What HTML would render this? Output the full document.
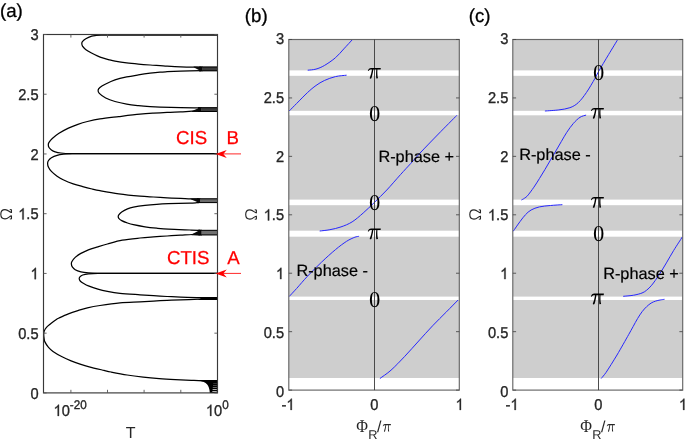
<!DOCTYPE html>
<html><head><meta charset="utf-8"><title>figure</title>
<style>html,body{margin:0;padding:0;background:#fff}body{width:685px;height:443px;overflow:hidden;font-family:"Liberation Sans",sans-serif}</style></head>
<body>
<svg width="685" height="443" viewBox="0 0 685 443" style="display:block;will-change:transform;text-rendering:geometricPrecision">
<rect width="685" height="443" fill="#fff"/>
<g fill="none" stroke="#000" stroke-width="1.25" stroke-linejoin="round">
<path d="M217.50 35.20 C199.92 35.20 131.42 35.20 112.00 35.20 C107.77 35.20 103.67 35.15 101.00 35.20 C99.07 35.24 97.55 35.33 96.00 35.50 C94.45 35.67 93.29 35.68 91.70 36.20 C90.00 36.75 87.35 37.88 85.80 38.80 C84.32 39.67 83.07 40.90 82.40 41.70 C81.91 42.29 81.78 42.85 81.80 43.60 C81.82 44.35 81.93 45.33 82.50 46.20 C83.13 47.17 84.23 48.37 85.60 49.40 C87.10 50.53 89.55 51.92 91.50 53.00 C93.45 54.08 95.32 55.03 97.30 55.90 C99.28 56.77 101.42 57.55 103.40 58.20 C105.38 58.85 107.27 59.32 109.20 59.80 C111.13 60.28 112.75 60.70 115.00 61.10 C117.92 61.62 122.80 62.40 126.70 62.90 C130.60 63.40 134.50 63.75 138.40 64.10 C142.30 64.45 146.50 64.75 150.10 65.00 C153.70 65.25 157.17 65.42 160.00 65.60 C162.73 65.78 164.37 65.94 167.10 66.10 C170.53 66.30 176.10 66.62 180.60 66.80 C185.10 66.98 190.70 67.12 194.10 67.20 C196.75 67.27 199.85 67.28 201.00 67.30"/>
<path d="M201.00 70.60 C197.60 70.70 186.25 71.02 180.60 71.20 C175.41 71.37 170.53 71.55 167.10 71.70 C164.37 71.82 162.72 71.86 160.00 72.10 C157.17 72.35 153.70 72.73 150.10 73.20 C146.50 73.67 142.30 74.28 138.40 74.90 C134.50 75.52 130.60 76.07 126.70 76.90 C122.80 77.73 118.50 78.72 115.00 79.90 C111.50 81.08 108.22 82.73 105.70 84.00 C103.37 85.17 101.17 86.48 99.90 87.50 C98.95 88.26 98.20 89.12 98.10 90.10 C98.00 91.08 98.36 92.43 99.30 93.40 C100.57 94.72 103.08 96.65 105.70 98.00 C108.32 99.35 111.50 100.48 115.00 101.50 C118.50 102.52 122.80 103.42 126.70 104.10 C130.60 104.78 134.50 105.18 138.40 105.60 C142.30 106.02 146.50 106.35 150.10 106.60 C153.70 106.85 156.19 106.98 160.00 107.10 C165.08 107.27 174.92 107.47 180.60 107.60 C185.79 107.72 190.87 107.85 194.10 107.90 C196.37 107.94 199.02 107.90 200.00 107.90"/>
<path d="M200.00 111.30 C198.68 111.28 195.14 111.12 192.10 111.20 C188.87 111.28 184.77 111.62 180.60 111.80 C176.43 111.98 171.62 112.08 167.10 112.30 C162.58 112.52 158.02 112.78 153.50 113.10 C148.98 113.42 145.18 113.68 140.00 114.20 C134.22 114.78 125.47 115.82 118.80 116.60 C112.13 117.38 105.23 118.08 100.00 118.90 C95.11 119.66 91.08 120.60 87.40 121.50 C83.72 122.40 81.07 123.20 77.90 124.30 C74.73 125.40 71.55 126.60 68.40 128.10 C65.25 129.60 61.68 131.57 59.00 133.30 C56.32 135.03 53.97 137.00 52.30 138.50 C50.86 139.79 49.67 141.27 49.00 142.30 C48.48 143.11 48.30 143.83 48.30 144.70 C48.30 145.57 48.48 146.63 49.00 147.50 C49.52 148.37 50.37 149.18 51.40 149.90 C52.43 150.62 53.65 151.29 55.20 151.80 C56.78 152.32 58.68 152.72 60.90 153.00 C63.37 153.31 66.49 153.64 70.00 153.65 C96.10 153.76 192.92 153.65 217.50 153.65"/>
<path d="M217.50 153.65 C193.25 153.66 97.63 153.61 72.00 153.70 C68.80 153.71 66.18 153.93 63.70 154.20 C61.22 154.47 59.15 154.72 57.10 155.30 C55.05 155.88 52.83 156.83 51.40 157.70 C50.07 158.50 49.13 159.55 48.50 160.50 C47.87 161.45 47.60 162.28 47.60 163.40 C47.60 164.52 47.87 165.87 48.50 167.20 C49.13 168.53 50.04 169.98 51.40 171.40 C52.83 172.90 55.05 174.77 57.10 176.20 C59.15 177.63 61.05 178.75 63.70 180.00 C66.38 181.27 70.03 182.70 73.20 183.80 C76.37 184.90 79.55 185.73 82.70 186.60 C85.85 187.47 89.22 188.32 92.10 189.00 C94.98 189.68 96.94 190.15 100.00 190.70 C104.45 191.50 112.13 192.90 118.80 193.80 C125.47 194.70 134.22 195.57 140.00 196.10 C145.18 196.58 148.98 196.72 153.50 197.00 C158.02 197.28 162.58 197.57 167.10 197.80 C171.62 198.03 176.67 198.22 180.60 198.40 C184.49 198.58 187.63 198.80 190.70 198.90 C193.77 199.00 197.62 198.98 199.00 199.00"/>
<path d="M199.00 202.50 C198.63 202.53 197.65 202.64 196.80 202.70 C195.30 202.80 192.62 203.01 190.00 203.10 C185.27 203.27 173.95 203.50 168.40 203.70 C163.90 203.86 160.60 204.02 156.70 204.30 C152.80 204.58 148.88 204.92 145.00 205.40 C141.12 205.88 136.32 206.62 133.40 207.20 C131.08 207.66 129.45 208.12 127.50 208.90 C125.55 209.68 123.15 210.92 121.70 211.90 C120.39 212.79 119.38 214.03 118.80 214.80 C118.38 215.35 118.20 215.92 118.20 216.50 C118.20 217.08 118.33 217.74 118.80 218.30 C119.38 218.98 120.45 219.92 121.70 220.60 C123.15 221.38 125.55 222.32 127.50 223.00 C129.45 223.68 131.09 224.20 133.40 224.70 C136.32 225.33 141.12 226.22 145.00 226.80 C148.88 227.38 152.80 227.80 156.70 228.20 C160.60 228.60 163.89 228.96 168.40 229.20 C173.95 229.50 185.03 229.82 190.00 230.00 C193.15 230.12 196.53 230.23 198.20 230.30 C198.89 230.33 199.70 230.38 200.00 230.40"/>
<path d="M200.00 234.60 C198.68 234.58 195.14 234.41 192.10 234.50 C188.87 234.60 184.77 234.95 180.60 235.20 C176.43 235.45 171.62 235.72 167.10 236.00 C162.58 236.28 158.02 236.57 153.50 236.90 C148.98 237.23 145.18 237.45 140.00 238.00 C134.80 238.55 127.73 239.20 122.30 240.20 C116.87 241.20 111.47 242.90 107.40 244.00 C103.72 244.99 101.07 245.83 97.90 246.80 C94.73 247.77 91.23 248.70 88.40 249.80 C85.57 250.90 83.10 252.13 80.90 253.40 C78.70 254.67 76.72 256.02 75.20 257.40 C73.68 258.78 72.43 260.58 71.80 261.70 C71.34 262.51 71.32 263.23 71.40 264.10 C71.48 264.97 71.67 265.96 72.30 266.90 C72.93 267.85 73.84 269.01 75.20 269.80 C76.63 270.63 78.70 271.38 80.90 271.90 C83.10 272.42 85.57 272.67 88.40 272.90 C91.23 273.13 94.24 273.29 97.90 273.30 C119.42 273.37 197.57 273.30 217.50 273.30"/>
<path d="M217.50 273.30 C197.57 273.32 119.42 273.30 97.90 273.40 C94.24 273.42 90.93 273.63 88.40 273.90 C86.18 274.13 84.12 274.50 82.70 275.00 C81.47 275.43 80.48 276.27 79.90 276.90 C79.37 277.47 79.12 278.08 79.20 278.80 C79.28 279.52 79.69 280.45 80.40 281.20 C81.15 281.98 82.37 282.72 83.70 283.50 C85.03 284.28 86.52 285.14 88.40 285.90 C90.77 286.85 94.73 288.28 97.90 289.20 C101.07 290.12 103.72 290.72 107.40 291.40 C111.08 292.08 115.13 292.79 120.00 293.30 C125.43 293.87 134.42 294.40 140.00 294.80 C145.19 295.17 148.98 295.42 153.50 295.70 C158.02 295.98 162.58 296.27 167.10 296.50 C171.62 296.73 175.65 296.92 180.60 297.10 C185.55 297.28 193.23 297.52 196.80 297.60 C198.80 297.65 201.13 297.60 202.00 297.60"/>
<path d="M202.00 299.20 C201.58 299.20 200.46 299.17 199.50 299.20 C195.93 299.30 186.00 299.60 180.60 299.80 C175.41 299.99 171.62 300.18 167.10 300.40 C162.58 300.62 158.02 300.85 153.50 301.10 C148.98 301.35 145.19 301.62 140.00 301.90 C134.42 302.20 126.67 302.30 120.00 302.90 C113.33 303.50 105.43 304.67 100.00 305.50 C95.12 306.25 91.08 307.05 87.40 307.90 C83.72 308.75 81.07 309.62 77.90 310.60 C74.73 311.58 71.55 312.57 68.40 313.80 C65.25 315.03 61.07 317.02 59.00 318.00 C57.80 318.57 57.09 318.95 56.00 319.70 C54.65 320.63 52.48 322.33 50.90 323.60 C49.32 324.87 47.60 326.08 46.50 327.30 C45.41 328.50 44.77 329.68 44.30 330.90 C43.83 332.12 43.73 333.33 43.70 334.60 C43.67 335.87 43.90 337.28 44.10 338.50 C44.30 339.72 44.30 340.70 44.90 341.90 C45.63 343.38 47.15 345.82 48.50 347.40 C49.85 348.98 51.10 350.08 53.00 351.40 C55.27 352.97 59.08 355.22 62.10 356.80 C65.12 358.38 68.10 359.68 71.10 360.90 C74.10 362.12 77.08 363.12 80.10 364.10 C83.12 365.08 85.67 365.87 89.20 366.80 C93.18 367.85 100.37 369.53 104.00 370.40 C106.69 371.04 108.29 371.46 111.00 372.00 C114.85 372.77 121.73 374.15 127.10 375.00 C132.47 375.85 137.85 376.50 143.20 377.10 C148.55 377.70 153.85 378.18 159.20 378.60 C164.55 379.02 169.95 379.32 175.30 379.60 C180.65 379.88 186.63 380.10 191.30 380.30 C195.92 380.50 201.30 380.72 203.30 380.80"/>
</g>
<path d="M193.5 66.6 L202.7 66.5 L202.7 71.3 L199.2 71.3 L198.9 70.0 L194.5 67.8 Z" fill="#0a0a0a"/>
<rect x="202.2" y="66.70" width="15.3" height="4.40" fill="#3c3c3c"/>
<path d="M199.2 67.00 H217.5 M199.2 70.80 H217.5" stroke="#000" stroke-width="1.0" fill="none"/>
<path d="M191.5 111.9 L201.7 112.0 L201.7 107.2 L198.2 107.2 L197.9 108.5 L192.5 110.7 Z" fill="#0a0a0a"/>
<rect x="201.2" y="107.40" width="16.3" height="4.40" fill="#3c3c3c"/>
<path d="M198.2 107.70 H217.5 M198.2 111.50 H217.5" stroke="#000" stroke-width="1.0" fill="none"/>
<path d="M190.2 198.4 L200.5 198.3 L200.5 203.1 L197.0 203.1 L196.7 201.8 L191.2 199.6 Z" fill="#0a0a0a"/>
<rect x="200.0" y="198.50" width="17.5" height="4.40" fill="#6a6a6a"/>
<path d="M197.0 198.80 H217.5 M197.0 202.60 H217.5" stroke="#000" stroke-width="1.0" fill="none"/>
<path d="M191.5 235.3 L201.9 235.4 L201.9 229.8 L198.4 229.8 L198.1 231.1 L192.5 234.1 Z" fill="#0a0a0a"/>
<rect x="201.4" y="230.00" width="16.1" height="5.20" fill="#707070"/>
<path d="M198.4 230.30 H217.5 M198.4 234.90 H217.5" stroke="#000" stroke-width="1.0" fill="none"/>
<path d="M197.5 296.9 L217.5 296.9 L217.5 300.0 L197.5 300.0 L200.9 298.4 Z" fill="#000"/>
<path d="M198 379.9 L217.5 379.9 L217.5 392.9 L209.8 392.9 C209.6 388 208.2 382.6 201.5 381.2 Z" fill="#000"/>
<rect x="212.3" y="391.10" width="4.5" height="0.7" fill="#fff"/>
<rect x="212.6" y="389.15" width="4.2" height="0.7" fill="#fff"/>
<rect x="212.8" y="387.25" width="4.0" height="0.7" fill="#999"/>
<rect x="213.0" y="385.25" width="3.8" height="0.7" fill="#666"/>
<rect x="213.2" y="383.25" width="3.6" height="0.7" fill="#444"/>
<rect x="43.5" y="34.5" width="174.0" height="358.4" stroke="#383838" stroke-width="1.15" fill="none"/>
<g stroke="#555" stroke-width="0.9" fill="none">
<path d="M43.5 392.90 h3.1 M217.5 392.90 h-3.1"/>
<path d="M43.5 333.16 h3.1 M217.5 333.16 h-3.1"/>
<path d="M43.5 273.43 h3.1 M217.5 273.43 h-3.1"/>
<path d="M43.5 213.69 h3.1 M217.5 213.69 h-3.1"/>
<path d="M43.5 153.96 h3.1 M217.5 153.96 h-3.1"/>
<path d="M43.5 94.22 h3.1 M217.5 94.22 h-3.1"/>
<path d="M43.5 34.49 h3.1 M217.5 34.49 h-3.1"/>
<path d="M70.9 392.9 v-3.1 M70.9 34.5 v3.1"/>
<path d="M107.5 392.9 v-3.1 M107.5 34.5 v3.1"/>
<path d="M144.1 392.9 v-3.1 M144.1 34.5 v3.1"/>
<path d="M180.8 392.9 v-3.1 M180.8 34.5 v3.1"/>
</g>
<g font-family="Liberation Sans, sans-serif" font-size="14.67" fill="#262626" stroke="#262626" stroke-width="0.32">
<text transform="translate(30.44 398.60) scale(1 1.07)" font-size="14.67">0</text>
<text transform="translate(18.21 338.86) scale(1 1.07)" font-size="14.67">0.5</text>
<path transform="translate(30.44 279.13) scale(0.00716 -0.00766)" d="M763 0H583V1147Q518 1085 412.5 1023T223 930V1104Q373 1174.5 485 1275T644 1470H763V0Z" stroke-width="45"/>
<path transform="translate(18.21 219.39) scale(0.00716 -0.00766)" d="M763 0H583V1147Q518 1085 412.5 1023T223 930V1104Q373 1174.5 485 1275T644 1470H763V0Z" stroke-width="45"/><text transform="translate(26.37 219.39) scale(1 1.07)" font-size="14.67">.5</text>
<text transform="translate(30.44 159.66) scale(1 1.07)" font-size="14.67">2</text>
<text transform="translate(18.21 99.92) scale(1 1.07)" font-size="14.67">2.5</text>
<text transform="translate(30.44 40.19) scale(1 1.07)" font-size="14.67">3</text>
<path transform="translate(53.50 415.90) scale(0.00716 -0.00766)" d="M763 0H583V1147Q518 1085 412.5 1023T223 930V1104Q373 1174.5 485 1275T644 1470H763V0Z" stroke-width="45"/><text transform="translate(61.66 415.90) scale(1 1.07)" font-size="14.67">0</text><text transform="translate(69.81 409.30) scale(1 1.07)" font-size="11.70">-20</text>
<path transform="translate(205.90 415.90) scale(0.00716 -0.00766)" d="M763 0H583V1147Q518 1085 412.5 1023T223 930V1104Q373 1174.5 485 1275T644 1470H763V0Z" stroke-width="45"/><text transform="translate(214.06 415.90) scale(1 1.07)" font-size="14.67">0</text><text transform="translate(222.21 409.30) scale(1 1.07)" font-size="11.70">0</text>
</g>
<text x="130.6" y="437.6" text-anchor="middle" font-family="Liberation Sans, sans-serif" font-size="16" fill="#262626">T</text>
<path transform="translate(12.00 214.20) rotate(-90)" d="M-1.7 -0.55C-1.7 -2.6-4.6 -3.6-4.6 -7C-4.6 -9.8-2.7 -11.2 0 -11.2C2.7 -11.2 4.6 -9.8 4.6 -7C4.6 -3.6 1.7 -2.6 1.7 -0.55M-4.75 -2.2L-4.5 -0.55L-1.2 -0.55M4.75 -2.2L4.5 -0.55L1.2 -0.55" fill="none" stroke="#262626" stroke-width="1.15" stroke-linejoin="round"/>
<g font-family="Liberation Sans, sans-serif" font-size="18.67" fill="#ff0000" stroke="#ff0000" stroke-width="0.25">
<text x="176" y="144.0">CIS</text><text x="226.5" y="144.0">B</text>
<text x="167" y="263.6">CTIS</text><text x="227.3" y="263.6">A</text>
</g>
<path d="M241 153.9 H222" stroke="#ff0000" stroke-width="0.85" fill="none"/>
<path d="M215.6 153.9 L226.8 149.9 L223.3 153.9 L226.8 157.9 Z" fill="#ff0000"/>
<path d="M241 273.4 H222" stroke="#ff0000" stroke-width="0.85" fill="none"/>
<path d="M215.6 273.4 L226.8 269.4 L223.3 273.4 L226.8 277.4 Z" fill="#ff0000"/>
<g font-family="Liberation Sans, sans-serif" font-size="18.67" fill="#000" stroke="#000" stroke-width="0.3">
<text x="0" y="17.2">(a)</text><text x="244.8" y="21.7">(b)</text><text x="468.7" y="21.7">(c)</text></g>
<rect x="288.8" y="39.5" width="170.5" height="338.5" fill="#cecece"/>
<rect x="288.8" y="70.4" width="170.5" height="5.4" fill="#fff"/>
<rect x="288.8" y="110.8" width="170.5" height="4.5" fill="#fff"/>
<rect x="288.8" y="199.6" width="170.5" height="5.6" fill="#fff"/>
<rect x="288.8" y="230.7" width="170.5" height="6.0" fill="#fff"/>
<rect x="288.8" y="296.6" width="170.5" height="3.4" fill="#fff"/>
<g fill="none" stroke="#2626ff" stroke-width="1.0">
<path d="M307.70 70.20 C309.08 70.02 313.22 69.88 316.00 69.10 C318.78 68.32 321.37 67.27 324.40 65.50 C327.65 63.60 332.27 60.47 335.50 57.70 C338.73 54.93 340.93 51.97 343.80 48.90 C346.67 45.83 351.22 40.90 352.70 39.30"/>
<path d="M289.20 111.00 C290.43 109.75 293.74 106.37 296.60 103.50 C299.68 100.40 304.47 95.40 307.70 92.40 C310.74 89.58 313.22 87.48 316.00 85.50 C318.78 83.52 321.15 81.98 324.40 80.50 C327.65 79.02 331.80 77.48 335.50 76.60 C339.20 75.72 344.75 75.43 346.60 75.20"/>
<path d="M319.70 231.00 C321.40 230.78 326.35 230.38 329.90 229.70 C333.45 229.02 337.30 228.20 341.00 226.90 C344.70 225.60 348.40 224.22 352.10 221.90 C355.80 219.58 359.50 216.23 363.20 213.00 C366.90 209.77 370.37 206.33 374.30 202.50 C378.23 198.67 382.43 194.65 386.80 190.00 C391.17 185.35 396.50 179.03 400.50 174.60 C404.42 170.25 407.55 166.98 410.80 163.40 C414.05 159.82 416.36 156.97 420.00 153.10 C424.60 148.20 432.25 140.30 438.40 134.00 C444.55 127.70 453.82 118.42 456.90 115.30"/>
<path d="M289.20 296.50 C290.43 295.17 293.79 291.61 296.60 288.50 C299.68 285.08 303.53 280.40 307.70 276.00 C311.87 271.60 316.97 266.50 321.60 262.10 C326.23 257.70 331.33 253.07 335.50 249.60 C339.60 246.19 343.37 243.37 346.60 241.30 C349.60 239.38 352.82 238.03 354.90 237.20 C356.43 236.59 358.40 236.45 359.10 236.30"/>
<path d="M379.90 378.50 C381.75 377.12 387.02 373.75 391.00 370.20 C395.15 366.50 400.18 361.17 404.80 356.30 C409.42 351.43 414.07 346.08 418.70 341.00 C423.33 335.92 427.98 330.65 432.60 325.80 C437.22 320.95 442.15 316.20 446.40 311.90 C450.65 307.60 456.15 301.98 458.10 300.00"/>
</g>
<rect x="288.8" y="39.5" width="170.5" height="350.6" stroke="#666" stroke-width="1.15" fill="none"/>
<g stroke="#262626" stroke-width="1" fill="none">
<path d="M374.5 39.5 V390.1" stroke="#3a3a3a" stroke-width="0.9"/>
<path d="M288.8 390.10 h3.3 M459.3 390.10 h-3.3" stroke="#444" stroke-width="0.85"/>
<path d="M288.8 331.67 h3.3 M459.3 331.67 h-3.3" stroke="#444" stroke-width="0.85"/>
<path d="M288.8 273.23 h3.3 M459.3 273.23 h-3.3" stroke="#444" stroke-width="0.85"/>
<path d="M288.8 214.80 h3.3 M459.3 214.80 h-3.3" stroke="#444" stroke-width="0.85"/>
<path d="M288.8 156.36 h3.3 M459.3 156.36 h-3.3" stroke="#444" stroke-width="0.85"/>
<path d="M288.8 97.93 h3.3 M459.3 97.93 h-3.3" stroke="#444" stroke-width="0.85"/>
<path d="M288.8 39.49 h3.3 M459.3 39.49 h-3.3" stroke="#444" stroke-width="0.85"/>
</g>
<g font-family="Liberation Sans, sans-serif" font-size="14.67" fill="#262626" stroke="#262626" stroke-width="0.32">
<text transform="translate(275.94 396.50) scale(1 1.07)" font-size="14.67">0</text>
<text transform="translate(263.71 337.80) scale(1 1.07)" font-size="14.67">0.5</text>
<path transform="translate(275.94 279.10) scale(0.00716 -0.00766)" d="M763 0H583V1147Q518 1085 412.5 1023T223 930V1104Q373 1174.5 485 1275T644 1470H763V0Z" stroke-width="45"/>
<path transform="translate(263.71 220.40) scale(0.00716 -0.00766)" d="M763 0H583V1147Q518 1085 412.5 1023T223 930V1104Q373 1174.5 485 1275T644 1470H763V0Z" stroke-width="45"/><text transform="translate(271.87 220.40) scale(1 1.07)" font-size="14.67">.5</text>
<text transform="translate(275.94 161.70) scale(1 1.07)" font-size="14.67">2</text>
<text transform="translate(263.71 103.00) scale(1 1.07)" font-size="14.67">2.5</text>
<text transform="translate(275.94 44.30) scale(1 1.07)" font-size="14.67">3</text>
<text transform="translate(281.48 409.90) scale(1 1.07)" font-size="14.67">-</text><path transform="translate(286.36 409.90) scale(0.00716 -0.00766)" d="M763 0H583V1147Q518 1085 412.5 1023T223 930V1104Q373 1174.5 485 1275T644 1470H763V0Z" stroke-width="45"/>
<text transform="translate(370.22 409.90) scale(1 1.07)" font-size="14.67">0</text>
<path transform="translate(455.52 409.90) scale(0.00716 -0.00766)" d="M763 0H583V1147Q518 1085 412.5 1023T223 930V1104Q373 1174.5 485 1275T644 1470H763V0Z" stroke-width="45"/>
</g>
<path transform="translate(256.90 214.50) rotate(-90)" d="M-1.7 -0.55C-1.7 -2.6-4.6 -3.6-4.6 -7C-4.6 -9.8-2.7 -11.2 0 -11.2C2.7 -11.2 4.6 -9.8 4.6 -7C4.6 -3.6 1.7 -2.6 1.7 -0.55M-4.75 -2.2L-4.5 -0.55L-1.2 -0.55M4.75 -2.2L4.5 -0.55L1.2 -0.55" fill="none" stroke="#262626" stroke-width="1.15" stroke-linejoin="round"/>
<g fill="#262626">
<text transform="translate(356.30 432.2) scale(1 1.12)" font-family="Liberation Serif, serif" font-size="16">Φ</text>
<text x="368.15" y="439.3" font-family="Liberation Sans, sans-serif" font-size="12.8">R</text>
<text x="377.10" y="431.9" font-family="Liberation Sans, sans-serif" font-size="16">/</text>
<path transform="translate(386.90 424.0) scale(0.63 0.71)" d="M-6.6 3.0C-6.0 1.0-5.0 0-3.2 0L6.4 0L6.2 1.6L3.0 1.6C2.8 5 3.0 8 3.6 10.4L1.9 10.7C1.6 8 1.6 4.5 1.9 1.6L-1.1 1.6C-1.5 5-2.2 8-3.0 10.4C-3.4 11-4.8 11-4.7 10.2C-3.6 7.5-2.8 4.5-2.4 1.6L-3.4 1.6C-4.6 1.6-5.4 2.2-6.0 3.2Z"/>
</g>
<g font-family="Liberation Serif, serif" font-size="22.67" fill="#000" text-anchor="middle">
<path transform="translate(374.40 67.90)" d="M-6.6 3.0C-6.0 1.0-5.0 0-3.2 0L6.4 0L6.2 1.6L3.0 1.6C2.8 5 3.0 8 3.6 10.4L1.9 10.7C1.6 8 1.6 4.5 1.9 1.6L-1.1 1.6C-1.5 5-2.2 8-3.0 10.4C-3.4 11-4.8 11-4.7 10.2C-3.6 7.5-2.8 4.5-2.4 1.6L-3.4 1.6C-4.6 1.6-5.4 2.2-6.0 3.2Z" fill="#000"/>
<text x="374.6" y="120.8">0</text>
<text x="374.6" y="210.2">0</text>
<path transform="translate(374.40 228.50)" d="M-6.6 3.0C-6.0 1.0-5.0 0-3.2 0L6.4 0L6.2 1.6L3.0 1.6C2.8 5 3.0 8 3.6 10.4L1.9 10.7C1.6 8 1.6 4.5 1.9 1.6L-1.1 1.6C-1.5 5-2.2 8-3.0 10.4C-3.4 11-4.8 11-4.7 10.2C-3.6 7.5-2.8 4.5-2.4 1.6L-3.4 1.6C-4.6 1.6-5.4 2.2-6.0 3.2Z" fill="#000"/>
<text x="374.6" y="306.5">0</text>
</g>
<g font-family="Liberation Sans, sans-serif" font-size="16.3" fill="#000" stroke="#000" stroke-width="0.2">
<text x="378.4" y="161.9">R-phase +</text>
<text x="296.4" y="276.3">R-phase -</text>
</g>
<rect x="512.8" y="39.5" width="169.9" height="338.5" fill="#cecece"/>
<rect x="512.8" y="70.4" width="169.9" height="5.4" fill="#fff"/>
<rect x="512.8" y="110.8" width="169.9" height="4.5" fill="#fff"/>
<rect x="512.8" y="199.6" width="169.9" height="5.6" fill="#fff"/>
<rect x="512.8" y="230.7" width="169.9" height="6.0" fill="#fff"/>
<rect x="512.8" y="296.6" width="169.9" height="3.4" fill="#fff"/>
<g fill="none" stroke="#2626ff" stroke-width="1.0">
<path d="M544.90 111.00 C547.22 110.82 554.63 110.45 558.80 109.90 C562.97 109.35 566.67 108.90 569.90 107.70 C573.13 106.50 575.46 105.23 578.20 102.70 C580.97 100.15 583.72 96.43 586.50 92.40 C589.28 88.37 592.90 81.97 594.90 78.50 C596.40 75.91 597.01 74.20 598.50 71.60 C600.80 67.58 605.47 59.78 608.70 54.40 C611.93 49.02 616.37 41.82 617.90 39.30"/>
<path d="M521.40 200.00 C521.90 199.72 523.40 198.98 524.40 198.30 C525.40 197.62 526.44 197.02 527.40 195.90 C528.98 194.05 531.90 190.08 533.90 187.20 C535.90 184.32 537.57 181.53 539.40 178.60 C541.23 175.67 543.07 172.67 544.90 169.60 C546.73 166.53 548.57 163.32 550.40 160.20 C552.23 157.08 554.07 154.03 555.90 150.90 C557.73 147.77 559.58 144.50 561.40 141.40 C563.22 138.30 564.80 135.30 566.80 132.30 C568.80 129.30 571.20 125.90 573.40 123.40 C575.60 120.90 577.88 118.68 580.00 117.30 C582.09 115.94 585.08 115.47 586.10 115.10"/>
<path d="M513.20 231.30 C514.33 229.68 517.95 224.37 520.00 221.60 C522.02 218.87 523.65 216.63 525.50 214.70 C527.35 212.77 528.78 211.30 531.10 210.00 C533.42 208.70 536.17 207.65 539.40 206.90 C542.63 206.15 546.67 205.87 550.50 205.50 C554.33 205.13 560.42 204.83 562.40 204.70"/>
<path d="M623.20 296.30 C624.95 296.12 630.57 295.75 633.70 295.20 C636.83 294.65 639.87 293.82 642.00 293.00 C643.89 292.28 644.93 291.56 646.50 290.30 C648.12 289.00 649.93 287.37 651.70 285.20 C653.80 282.62 656.65 278.52 659.10 274.80 C661.55 271.08 663.97 266.97 666.40 262.90 C668.83 258.83 671.05 254.72 673.70 250.40 C676.35 246.08 680.87 239.23 682.30 237.00"/>
<path d="M601.20 378.50 C602.00 377.50 604.35 374.95 606.00 372.50 C608.63 368.58 613.23 361.30 617.00 355.00 C620.77 348.70 625.92 339.43 628.60 334.70 C630.36 331.60 631.60 329.30 633.10 326.60 C634.60 323.90 636.10 320.98 637.60 318.50 C639.10 316.02 640.60 313.67 642.10 311.70 C643.60 309.73 645.10 308.13 646.60 306.70 C648.10 305.27 649.60 304.03 651.10 303.10 C652.60 302.17 654.08 301.62 655.60 301.10 C657.12 300.58 658.72 300.30 660.20 300.00 C661.68 299.70 663.78 299.42 664.50 299.30"/>
</g>
<rect x="512.8" y="39.5" width="169.9" height="350.6" stroke="#666" stroke-width="1.15" fill="none"/>
<g stroke="#262626" stroke-width="1" fill="none">
<path d="M598.5 39.5 V390.1" stroke="#3a3a3a" stroke-width="0.9"/>
<path d="M512.8 390.10 h3.3 M682.7 390.10 h-3.3" stroke="#444" stroke-width="0.85"/>
<path d="M512.8 331.67 h3.3 M682.7 331.67 h-3.3" stroke="#444" stroke-width="0.85"/>
<path d="M512.8 273.23 h3.3 M682.7 273.23 h-3.3" stroke="#444" stroke-width="0.85"/>
<path d="M512.8 214.80 h3.3 M682.7 214.80 h-3.3" stroke="#444" stroke-width="0.85"/>
<path d="M512.8 156.36 h3.3 M682.7 156.36 h-3.3" stroke="#444" stroke-width="0.85"/>
<path d="M512.8 97.93 h3.3 M682.7 97.93 h-3.3" stroke="#444" stroke-width="0.85"/>
<path d="M512.8 39.49 h3.3 M682.7 39.49 h-3.3" stroke="#444" stroke-width="0.85"/>
</g>
<g font-family="Liberation Sans, sans-serif" font-size="14.67" fill="#262626" stroke="#262626" stroke-width="0.32">
<text transform="translate(500.14 396.50) scale(1 1.07)" font-size="14.67">0</text>
<text transform="translate(487.91 337.80) scale(1 1.07)" font-size="14.67">0.5</text>
<path transform="translate(500.14 279.10) scale(0.00716 -0.00766)" d="M763 0H583V1147Q518 1085 412.5 1023T223 930V1104Q373 1174.5 485 1275T644 1470H763V0Z" stroke-width="45"/>
<path transform="translate(487.91 220.40) scale(0.00716 -0.00766)" d="M763 0H583V1147Q518 1085 412.5 1023T223 930V1104Q373 1174.5 485 1275T644 1470H763V0Z" stroke-width="45"/><text transform="translate(496.07 220.40) scale(1 1.07)" font-size="14.67">.5</text>
<text transform="translate(500.14 161.70) scale(1 1.07)" font-size="14.67">2</text>
<text transform="translate(487.91 103.00) scale(1 1.07)" font-size="14.67">2.5</text>
<text transform="translate(500.14 44.30) scale(1 1.07)" font-size="14.67">3</text>
<text transform="translate(505.48 409.90) scale(1 1.07)" font-size="14.67">-</text><path transform="translate(510.36 409.90) scale(0.00716 -0.00766)" d="M763 0H583V1147Q518 1085 412.5 1023T223 930V1104Q373 1174.5 485 1275T644 1470H763V0Z" stroke-width="45"/>
<text transform="translate(594.22 409.90) scale(1 1.07)" font-size="14.67">0</text>
<path transform="translate(678.92 409.90) scale(0.00716 -0.00766)" d="M763 0H583V1147Q518 1085 412.5 1023T223 930V1104Q373 1174.5 485 1275T644 1470H763V0Z" stroke-width="45"/>
</g>
<path transform="translate(481.00 214.50) rotate(-90)" d="M-1.7 -0.55C-1.7 -2.6-4.6 -3.6-4.6 -7C-4.6 -9.8-2.7 -11.2 0 -11.2C2.7 -11.2 4.6 -9.8 4.6 -7C4.6 -3.6 1.7 -2.6 1.7 -0.55M-4.75 -2.2L-4.5 -0.55L-1.2 -0.55M4.75 -2.2L4.5 -0.55L1.2 -0.55" fill="none" stroke="#262626" stroke-width="1.15" stroke-linejoin="round"/>
<g fill="#262626">
<text transform="translate(580.30 432.2) scale(1 1.12)" font-family="Liberation Serif, serif" font-size="16">Φ</text>
<text x="592.15" y="439.3" font-family="Liberation Sans, sans-serif" font-size="12.8">R</text>
<text x="601.10" y="431.9" font-family="Liberation Sans, sans-serif" font-size="16">/</text>
<path transform="translate(610.90 424.0) scale(0.63 0.71)" d="M-6.6 3.0C-6.0 1.0-5.0 0-3.2 0L6.4 0L6.2 1.6L3.0 1.6C2.8 5 3.0 8 3.6 10.4L1.9 10.7C1.6 8 1.6 4.5 1.9 1.6L-1.1 1.6C-1.5 5-2.2 8-3.0 10.4C-3.4 11-4.8 11-4.7 10.2C-3.6 7.5-2.8 4.5-2.4 1.6L-3.4 1.6C-4.6 1.6-5.4 2.2-6.0 3.2Z"/>
</g>
<g font-family="Liberation Serif, serif" font-size="22.67" fill="#000" text-anchor="middle">
<text x="598.6" y="80.3">0</text>
<path transform="translate(597.50 107.90)" d="M-6.6 3.0C-6.0 1.0-5.0 0-3.2 0L6.4 0L6.2 1.6L3.0 1.6C2.8 5 3.0 8 3.6 10.4L1.9 10.7C1.6 8 1.6 4.5 1.9 1.6L-1.1 1.6C-1.5 5-2.2 8-3.0 10.4C-3.4 11-4.8 11-4.7 10.2C-3.6 7.5-2.8 4.5-2.4 1.6L-3.4 1.6C-4.6 1.6-5.4 2.2-6.0 3.2Z" fill="#000"/>
<path transform="translate(597.50 197.00)" d="M-6.6 3.0C-6.0 1.0-5.0 0-3.2 0L6.4 0L6.2 1.6L3.0 1.6C2.8 5 3.0 8 3.6 10.4L1.9 10.7C1.6 8 1.6 4.5 1.9 1.6L-1.1 1.6C-1.5 5-2.2 8-3.0 10.4C-3.4 11-4.8 11-4.7 10.2C-3.6 7.5-2.8 4.5-2.4 1.6L-3.4 1.6C-4.6 1.6-5.4 2.2-6.0 3.2Z" fill="#000"/>
<text x="598.6" y="241.2">0</text>
<path transform="translate(597.50 293.60)" d="M-6.6 3.0C-6.0 1.0-5.0 0-3.2 0L6.4 0L6.2 1.6L3.0 1.6C2.8 5 3.0 8 3.6 10.4L1.9 10.7C1.6 8 1.6 4.5 1.9 1.6L-1.1 1.6C-1.5 5-2.2 8-3.0 10.4C-3.4 11-4.8 11-4.7 10.2C-3.6 7.5-2.8 4.5-2.4 1.6L-3.4 1.6C-4.6 1.6-5.4 2.2-6.0 3.2Z" fill="#000"/>
</g>
<g font-family="Liberation Sans, sans-serif" font-size="16.3" fill="#000" stroke="#000" stroke-width="0.2">
<text x="519.2" y="160.1">R-phase -</text>
<text x="603.2" y="278.8">R-phase +</text>
</g>
</svg>
</body></html>
